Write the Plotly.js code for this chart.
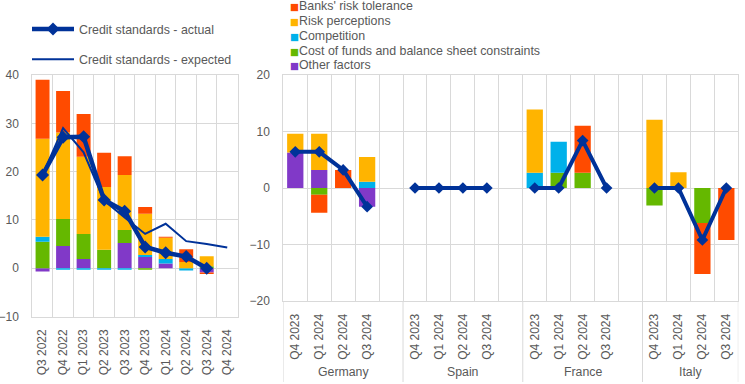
<!DOCTYPE html>
<html><head><meta charset="utf-8">
<script src="https://cdn.plot.ly/plotly-3.0.1.min.js"></script>
<style>html,body{margin:0;padding:0;background:#fff}#chart{width:745px;height:384px}</style>
</head><body><div id="chart"></div>
<script>
// ---------- Left panel (euro area) ----------
const leftQuarters = ["Q3 2022","Q4 2022","Q1 2023","Q2 2023","Q3 2023","Q4 2023","Q1 2024","Q2 2024","Q3 2024","Q4 2024"];
const riskTolerance = [12.2, 8.6, 8.8, 7.1, 3.9, 1.4, 0.2, 2.6, -0.3, null];
const riskPerceptions = [20.3, 17.9, 16.0, 13.0, 11.4, 8.5, 4.4, 1.3, 2.1, null];
const competition = [1.0, -0.3, -0.3, -0.3, -0.3, 0.45, 0.95, -0.5, 0, null];
const costOfFunds = [5.5, 5.6, 5.2, 3.8, 2.7, -0.3, 0, 0, 0.4, null];
const otherFactors = [-0.7, 4.6, 1.9, 0, 5.2, 2.3, 0.95, 0, -0.9, null];
const actual = [19.3, 27.1, 27.2, 14.1, 11.8, 4.4, 3.2, 2.4, 0.0, null];
const expected = [19.3, 29.0, 24.0, 14.0, 10.5, 7.1, 9.2, 5.6, 5.0, 4.3];

// ---------- Right panel (countries) ----------
const countries = ["Germany","Spain","France","Italy"];
const countryQuarters = ["Q4 2023","Q1 2024","Q2 2024","Q3 2024"];
// values listed country by country, 4 quarters each
const ctyRiskTolerance = [0, -3.2, 3.2, 0,   0, 0, 0, 0,   0, 0, 8.3, 0,    0, 0, -9.0, -9.2];
const ctyRiskPerceptions = [3.3, 6.4, 0, 4.4, 0, 0, 0, 0,  11.2, 0, 0, 0,   12.1, 2.8, 0, 0];
const ctyCompetition = [0, 0, 0, 1.1,         0, 0, 0, 0,   2.7, 5.5, 0, 0,  0, 0, 0, 0];
const ctyCostOfFunds = [0, -1.2, 0, 0,        0, 0, 0, 0,   0, 2.7, 2.7, 0,  -3.1, 0, -6.2, 0];
const ctyOtherFactors = [6.3, 3.2, 0, -3.3,   0, 0, 0, 0,   0, 0, 0, 0,      0, 0, 0, 0];
const ctyActual = [6.4, 6.4, 3.2, -3.3,       0, 0, 0, 0,   0, 0, 8.4, 0,    0, 0, -9.2, 0];

const factorNames = ["Banks' risk tolerance","Risk perceptions","Competition","Cost of funds and balance sheet constraints","Other factors"];
const lineNames = ["Credit standards - actual","Credit standards - expected"];

// ---------- styles ----------
const factorColors = ["#FF4B00","#FFB400","#00B1EA","#65B800","#8139C8"];
const lineColor = "#003299";
const gridColor = "#D9D9D9";
const textColor = "#595959";
const FONT = "Liberation Sans, Arial, sans-serif";
const W = 745, H = 384;

const leftFactors = [riskTolerance, riskPerceptions, competition, costOfFunds, otherFactors];
const ctyFactors = [ctyRiskTolerance, ctyRiskPerceptions, ctyCompetition, ctyCostOfFunds, ctyOtherFactors];

// slots on the country axis: 4 quarters per country plus an empty slot between countries
const slots = [], slotLabels = [], groupBounds = [], groupCenters = [];
countries.forEach((c, ci) => {
  const start = slots.length;
  countryQuarters.forEach(q => { slots.push(c + " " + q); slotLabels.push(q); });
  if (ci < countries.length - 1) { slots.push(c + " gap"); slotLabels.push(""); }
  const end = slots.length - 1;
  groupBounds.push(start - 0.5);
  groupCenters.push((start + end) / 2);
});
groupBounds.push(slots.length - 0.5);

const ctyX = [], ctyIdx = [];
countries.forEach((c, ci) => countryQuarters.forEach((q, qi) => { ctyX.push(c + " " + q); ctyIdx.push(ci * countryQuarters.length + qi); }));

const traces = [];
// stack order (bottom first): other, cost, competition, risk perceptions, risk tolerance
for (let k = factorNames.length - 1; k >= 0; k--) {
  traces.push({type: "bar", x: leftQuarters, y: leftFactors[k], name: factorNames[k], marker: {color: factorColors[k]},
    xaxis: "x", yaxis: "y", showlegend: false, hoverinfo: "skip"});
  traces.push({type: "bar", x: ctyX, y: ctyIdx.map(i => ctyFactors[k][i]), name: factorNames[k], marker: {color: factorColors[k]},
    xaxis: "x2", yaxis: "y2", showlegend: false, hoverinfo: "skip"});
}
traces.push({type: "scatter", mode: "lines", x: leftQuarters, y: expected, name: lineNames[1],
  line: {color: lineColor, width: 2}, xaxis: "x", yaxis: "y", legendgroup: "b", legendrank: 2});
traces.push({type: "scatter", mode: "lines+markers", x: leftQuarters, y: actual, name: lineNames[0],
  line: {color: lineColor, width: 4.5}, marker: {symbol: "diamond", size: 10, color: lineColor},
  xaxis: "x", yaxis: "y", legendgroup: "a", legendrank: 1});
// country actual line, broken between countries
const ctyLineY = slots.map(s => { const j = ctyX.indexOf(s); return j < 0 ? null : ctyActual[ctyIdx[j]]; });
traces.push({type: "scatter", mode: "lines+markers", x: slots, y: ctyLineY, name: lineNames[0], connectgaps: false,
  line: {color: lineColor, width: 4}, marker: {symbol: "diamond", size: 9, color: lineColor},
  xaxis: "x2", yaxis: "y2", showlegend: false});

const axisCommon = {showgrid: true, gridcolor: gridColor, gridwidth: 1, showline: true, linecolor: gridColor, linewidth: 1,
  mirror: true, zeroline: true, zerolinecolor: gridColor, zerolinewidth: 1, ticks: "", fixedrange: true};

const plotTop = 1 - 75 / H;
const annotations = [];
countries.forEach((c, ci) => annotations.push({xref: "x2", yref: "paper", x: groupCenters[ci], y: 1 - 372 / H,
  text: c, showarrow: false, xanchor: "center", yanchor: "middle", font: {family: FONT, size: 12.3, color: textColor}}));
factorNames.forEach((n, i) => annotations.push({xref: "paper", yref: "paper", x: 287.5 / W, y: 1 - (6.3 + i * 14.75) / H,
  xanchor: "left", yanchor: "middle", showarrow: false,
  text: '<span style="color:' + factorColors[i] + ';font-size:9.5px;font-family:DejaVu Sans">■</span>' + n,
  font: {family: FONT, size: 12.4, color: textColor}}));

const shapes = groupBounds.map(b => ({type: "line", xref: "x2", yref: "paper", x0: b, x1: b,
  y0: 1 - 301 / H, y1: 1 - 382 / H, line: {color: gridColor, width: 1}}));

const layout = {
  width: W, height: H, margin: {l: 0, r: 0, t: 0, b: 0}, paper_bgcolor: "#fff", plot_bgcolor: "#fff",
  barmode: "relative", bargap: 0.32,
  font: {family: FONT, color: textColor, size: 12},
  xaxis: Object.assign({}, axisCommon, {domain: [32.3 / W, 237.5 / W], anchor: "y", type: "category",
    categoryorder: "array", categoryarray: leftQuarters, range: [-0.5, leftQuarters.length - 0.5],
    tickson: "boundaries", tickangle: -90, ticklabelstandoff: 7, tickfont: {family: FONT, size: 12, color: textColor}}),
  yaxis: Object.assign({}, axisCommon, {domain: [1 - 316.5 / H, plotTop], anchor: "x", range: [-10, 40],
    tickvals: [-10, 0, 10, 20, 30, 40], ticklabelstandoff: 10, tickfont: {family: FONT, size: 12, color: textColor}}),
  xaxis2: Object.assign({}, axisCommon, {domain: [283.3 / W, 738.3 / W], anchor: "y2", type: "category",
    categoryorder: "array", categoryarray: slots, range: [-0.5, slots.length - 0.5],
    tickmode: "array", tickvals: slots, ticktext: slotLabels,
    tickson: "boundaries", tickangle: -90, ticklabelstandoff: 7, tickfont: {family: FONT, size: 12, color: textColor}}),
  yaxis2: Object.assign({}, axisCommon, {domain: [1 - 301 / H, plotTop], anchor: "x2", range: [-20, 20],
    tickvals: [-20, -10, 0, 10, 20], ticklabelstandoff: 10, tickfont: {family: FONT, size: 12, color: textColor}}),
  showlegend: true,
  legend: {x: 27 / W, xanchor: "left", y: 1 - 14.5 / H, yanchor: "top", bgcolor: "rgba(0,0,0,0)", borderwidth: 0,
    tracegroupgap: 11, itemwidth: 42, traceorder: "grouped", font: {family: FONT, size: 12.4, color: textColor}},
  annotations: annotations, shapes: shapes
};

Plotly.newPlot("chart", traces, layout, {displayModeBar: false, staticPlot: true});
</script></body></html>
